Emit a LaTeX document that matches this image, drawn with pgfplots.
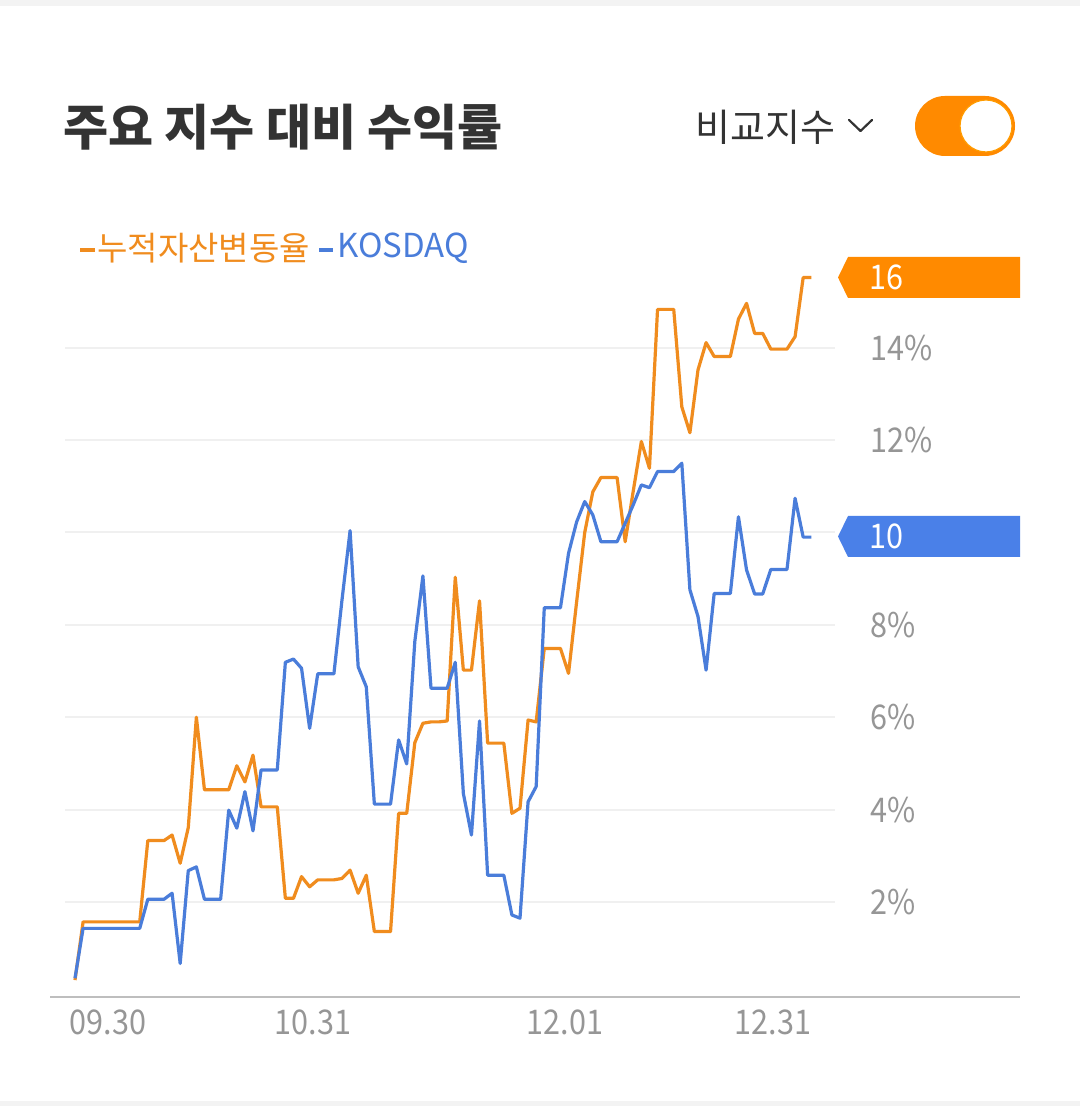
\documentclass[border=0pt]{standalone}
\usepackage{pgfplots}
\usepackage{pgfplotstable}
\pgfplotsset{compat=1.18}
\usepackage{fontspec}
\setmainfont{Noto Sans CJK KR}[FakeStretch=0.9]
\newfontfamily\plainfont{Noto Sans CJK KR}
\definecolor{lineorange}{RGB}{240,140,30}
\definecolor{lineblue}{RGB}{74,125,218}
\definecolor{tagorange}{RGB}{255,138,0}
\definecolor{tagblue}{RGB}{74,128,232}
\definecolor{gridgray}{RGB}{240,240,240}
\definecolor{axisgray}{RGB}{190,190,190}
\definecolor{labelgray}{RGB}{150,150,150}
\definecolor{titlegray}{RGB}{51,51,51}
\definecolor{stripgray}{RGB}{243,243,243}

\pgfplotstableread{
d orange kosdaq
0 0.31 0.35
1 1.57 1.43
2 1.57 1.43
3 1.57 1.43
4 1.57 1.43
5 1.57 1.43
6 1.57 1.43
7 1.57 1.43
8 1.57 1.43
9 3.33 2.06
10 3.33 2.06
11 3.33 2.06
12 3.45 2.19
13 2.84 0.67
14 3.61 2.68
15 6.00 2.76
16 4.43 2.06
17 4.43 2.06
18 4.43 2.06
19 4.43 3.99
20 4.95 3.60
21 4.60 4.39
22 5.18 3.54
23 4.06 4.86
24 4.06 4.86
25 4.06 4.86
26 2.08 7.19
27 2.08 7.26
28 2.55 7.06
29 2.33 5.76
30 2.48 6.94
31 2.48 6.94
32 2.48 6.94
33 2.51 8.54
34 2.69 10.04
35 2.19 7.09
36 2.58 6.66
37 1.36 4.12
38 1.36 4.12
39 1.36 4.12
40 3.92 5.51
41 3.92 4.99
42 5.45 7.64
43 5.87 9.06
44 5.90 6.63
45 5.90 6.63
46 5.92 6.63
47 9.03 7.19
48 7.02 4.35
49 7.02 3.45
50 8.52 5.92
51 5.44 2.58
52 5.44 2.58
53 5.44 2.58
54 3.92 1.72
55 4.03 1.65
56 5.94 4.17
57 5.90 4.50
58 7.49 8.37
59 7.49 8.37
60 7.49 8.37
61 6.95 9.55
62 8.50 10.23
63 10.00 10.67
64 10.88 10.38
65 11.19 9.80
66 11.19 9.80
67 11.19 9.80
68 9.80 10.20
69 10.90 10.60
70 11.97 11.03
71 11.39 10.97
72 14.83 11.32
73 14.83 11.32
74 14.83 11.32
75 12.72 11.50
76 12.16 8.76
77 13.52 8.18
78 14.11 7.02
79 13.81 8.68
80 13.81 8.68
81 13.81 8.68
82 14.62 10.34
83 14.96 9.19
84 14.31 8.67
85 14.31 8.67
86 13.97 9.20
87 13.97 9.20
88 13.97 9.20
89 14.24 10.74
90 15.52 9.90
91 15.52 9.90
}\data

\begin{document}
\begin{tikzpicture}
\path[use as bounding box, fill=white] (0,0) rectangle (540pt,553pt);
\begin{axis}[
  at={(25pt,54.5pt)}, anchor=south west, scale only axis,
  width=485pt, height=373.5pt,
  xmin=-3.09, xmax=116.8, ymin=-0.056, ymax=16.116,
  axis x line*=bottom, axis y line=none,
  x axis line style={draw=axisgray, line width=1pt},
  xtick={4.08,29.42,60.57,86.28},
  xticklabels={09.30,10.31,12.01,12.31},
  major tick length=0pt,
  xticklabel style={font=\fontsize{17}{20}\selectfont, text=labelgray, anchor=center, yshift=-12.5pt, inner sep=0pt},
  ytick=\empty,
  clip=false,
]
\pgfplotsinvokeforeach{2,4,6,8,10,12,14}{
  \draw[gridgray, line width=1pt] (axis cs:-1.2,#1) -- (axis cs:93.9,#1);
}
\pgfplotsinvokeforeach{2,4,6,8,12,14}{
  \node[anchor=west, text=labelgray, font=\fontsize{17}{20}\selectfont, inner sep=0pt] at (axis cs:98.27,#1) {#1\%};
}
\addplot[lineorange, line width=1.6pt, line join=round, mark=none] table[x=d, y=orange] {\data};
\addplot[lineblue, line width=1.6pt, line join=round, mark=none] table[x=d, y=kosdaq] {\data};
\end{axis}
\begin{scope}[x=0.5pt, y=-0.5pt, shift={(0pt,553pt)}]
  \fill[stripgray] (0,0) rectangle (1080,6);
  \fill[stripgray] (0,1101) rectangle (1080,1106);
  % title
  \node[anchor=west, inner sep=0pt, text=titlegray, font=\plainfont\fontsize{24.5}{28}\selectfont\bfseries] at (63,127) {주요 지수 대비 수익률};
  \node[anchor=west, inner sep=0pt, text=titlegray, font=\plainfont\fontsize{19}{22}\selectfont] at (695,127) {비교지수};
  \draw[titlegray, line width=1.1pt, line cap=round, line join=round] (849,120) -- (860.5,131) -- (872,120);
  % toggle
  \fill[tagorange, rounded corners=15pt] (915,96) rectangle (1015,156);
  \filldraw[fill=white, draw=tagorange!85!yellow, line width=0.6pt] (986,126) circle (26);
  % legend
  \draw[lineorange, line width=2pt] (80,250) -- (95,250);
  \node[anchor=west, inner sep=0pt, text=lineorange, font=\plainfont\fontsize{16.5}{20}\selectfont] at (97,248) {누적자산변동율};
  \draw[lineblue, line width=2pt] (319,250) -- (333,250);
  \node[anchor=west, inner sep=0pt, text=lineblue, font=\plainfont\fontsize{16.5}{20}\selectfont] at (337,248) {KOSDAQ};
  % value tags
  \fill[tagorange] (838,277.5) -- (848,257) -- (1020,257) -- (1020,298) -- (848,298) -- cycle;
  \node[anchor=west, inner sep=0pt, text=white, font=\fontsize{17}{20}\selectfont] at (869,277.5) {16};
  \fill[tagblue] (838,536.5) -- (848,516) -- (1020,516) -- (1020,557) -- (848,557) -- cycle;
  \node[anchor=west, inner sep=0pt, text=white, font=\fontsize{17}{20}\selectfont] at (869,536.5) {10};
\end{scope}
\end{tikzpicture}
\end{document}
